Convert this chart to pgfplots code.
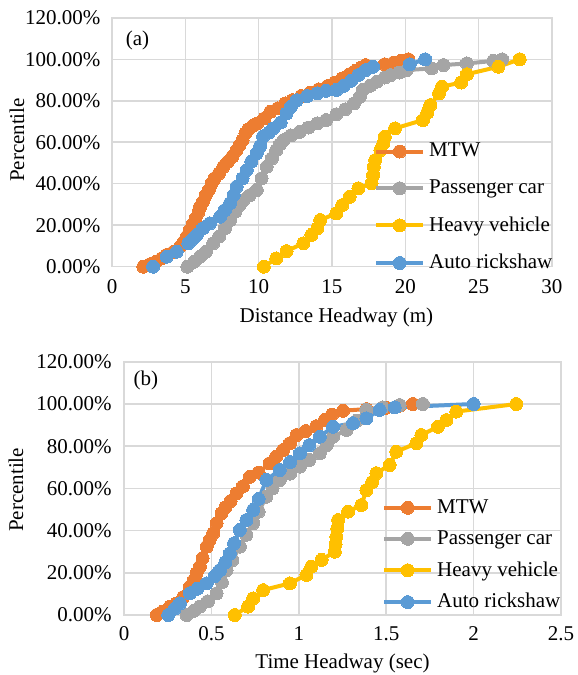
\documentclass[border=0pt]{standalone}
\usepackage{fontspec}
\setmainfont{Liberation Serif}
\usepackage{pgfplots}
\pgfplotsset{compat=1.18}
\definecolor{cMTW}{HTML}{ED7D31}
\definecolor{cPC}{HTML}{A5A5A5}
\definecolor{cHV}{HTML}{FFC000}
\definecolor{cAR}{HTML}{5B9BD5}
\definecolor{gridc}{HTML}{D9D9D9}
\newcommand{\fs}{\rmfamily\fontsize{10.5}{12.6}\selectfont}
\pgfplotsset{
 hw/.style={
  scale only axis, clip=false,
  ymin=0, ymax=120, ytick={0,20,...,120},
  yticklabels={0.00\%,20.00\%,40.00\%,60.00\%,80.00\%,100.00\%,120.00\%},
  grid=major, major grid style={draw=gridc, line width=0.75pt},
  axis line style={draw=gridc, line width=0.75pt},
  major tick length=0pt,
  tick style={draw=none},
  ticklabel style={font=\fs},
  label style={font=\fs},
  legend cell align=left,
  legend image code/.code={\draw[mark repeat=2,mark phase=2,#1] plot coordinates {(0pt,0pt) (11.75pt,0pt) (23.5pt,0pt)};},
 },
 ser/.style={line width=2pt, color=#1, mark=*, mark size=3.25pt, mark options={solid, fill=#1, draw=#1, line width=0pt}},
}
\begin{document}
\begin{tikzpicture}
\useasboundingbox (0,0) rectangle (289pt,337.5pt);
% ---------------- panel (a)
\begin{axis}[hw,
  at={(56pt,204.15pt)}, anchor=south west,
  width=220pt, height=124.45pt,
  xmin=0, xmax=30, xtick={0,5,...,30},
  xticklabels={0,5,10,15,20,25,30},
  xticklabel style={anchor=center, yshift=-10pt},
  yticklabel style={anchor=east, inner sep=0pt, xshift=-5.6pt},
  xlabel={Distance Headway (m)}, ylabel={Percentile},
  xlabel style={at={(axis description cs:0.51,-0.206)}, anchor=center},
  ylabel style={at={(axis description cs:-0.216,0.509)}, anchor=center},
  legend style={at={(axis description cs:0.595,0.514)}, anchor=north west, draw=none, fill=none, font=\fs, row sep=6pt, inner sep=0pt},
]
\addplot[ser=cMTW] coordinates {
(2.14,0) (2.6,1.2) (3.0,2.4) (3.4,4.0) (3.7,5.6) (4.2,7.2) (4.64,9.6) (4.9,12.0) (5.1,14.5) (5.3,17.7) (5.5,20.5) (5.7,23.3) (5.9,26.5) (6.0,28.9) (6.2,31.3) (6.4,34.5) (6.6,37.0) (6.8,40.2) (7.0,42.6) (7.3,45.0) (7.6,48.2) (7.9,50.6) (8.2,53.0) (8.5,56.2) (8.7,58.6) (8.9,61.0) (9.1,64.3) (9.3,66.3) (9.6,67.9) (9.9,69.1) (10.4,71.5) (10.8,74.7) (11.3,76.3) (11.8,78.7) (12.3,80.3) (12.9,82.3) (13.5,83.9) (14.1,85.5) (14.7,87.1) (15.2,88.8) (15.7,90.8) (16.2,92.8) (16.6,94.4) (17.0,96.0) (17.3,97.2) (18.6,97.6) (19.2,98.4) (19.7,99.2) (20.2,100)
};
\addlegendentry{MTW}
\addplot[ser=cPC] coordinates {
(5.14,0) (5.6,2.4) (6.0,4.8) (6.4,7.2) (6.9,11.3) (7.3,14.5) (7.7,18.5) (8.05,22.5) (8.4,26.5) (8.7,29.7) (8.96,32.1) (9.4,34.5) (9.87,37.0) (10.2,42.6) (10.55,48.2) (10.9,52.2) (11.2,56.2) (11.45,59.0) (11.7,61.0) (12.2,63.3) (12.8,65.0) (13.4,67.1) (14.0,69.1) (14.6,70.7) (15.3,73.5) (15.9,75.9) (16.5,78.7) (16.9,81.9) (17.1,85.2) (17.6,87.2) (18.06,89.2) (18.6,91.2) (19.0,92.4) (19.6,93.6) (20.1,94.8) (21.8,95.6) (22.6,97.2) (24.2,98.0) (26.0,99.2) (26.6,100)
};
\addlegendentry{Passenger car}
\addplot[ser=cHV] coordinates {
(10.35,0) (11.2,4.0) (11.9,7.5) (13.05,11.3) (13.6,15.3) (14.0,18.5) (14.2,22.5) (15.3,25.7) (15.7,29.7) (16.2,33.7) (16.8,37.8) (17.7,40.2) (17.8,44.2) (17.85,48.2) (17.95,51.4) (18.3,56.2) (18.5,59.4) (18.6,62.7) (19.3,66.7) (21.2,70.7) (21.5,74.3) (21.7,77.9) (22.3,83.6) (22.5,86.8) (23.8,88.8) (24.2,92.8) (26.35,96.4) (27.8,100)
};
\addlegendentry{Heavy vehicle}
\addplot[ser=cAR] coordinates {
(2.8,0) (3.73,4.8) (4.41,7.2) (5.2,11.3) (5.5,13.3) (5.78,15.3) (6.2,18.5) (6.68,20.9) (7.37,24.1) (7.7,27.3) (8.05,30.6) (8.3,34.5) (8.5,38.6) (8.9,42.6) (9.19,46.6) (9.5,50.6) (9.87,54.7) (10.1,58.2) (10.3,62.7) (10.7,64.7) (11.0,66.7) (11.5,69.5) (11.9,73.9) (12.2,77.1) (12.6,80.3) (13.3,82.3) (14.0,83.6) (14.6,84.8) (15.3,85.2) (15.8,87.2) (16.3,89.6) (16.8,92.4) (17.3,94.8) (17.8,96.4) (20.3,97.6) (21.35,100)
};
\addlegendentry{Auto rickshaw}
\node[font=\fs] at (axis description cs:0.058,0.911) {(a)};
\end{axis}
% ---------------- panel (b)
\begin{axis}[hw,
  at={(62pt,30pt)}, anchor=south west,
  width=218.5pt, height=126.6pt,
  xmin=0, xmax=2.5, xtick={0,0.5,...,2.5},
  xticklabels={0,0.5,1,1.5,2,2.5},
  xticklabel style={anchor=center, yshift=-9.5pt},
  yticklabel style={anchor=east, inner sep=0pt, xshift=-6pt},
  xlabel={Time Headway (sec)}, ylabel={Percentile},
  xlabel style={at={(axis description cs:0.50,-0.19)}, anchor=center},
  ylabel style={at={(axis description cs:-0.247,0.494)}, anchor=center},
  legend style={at={(axis description cs:0.59,0.474)}, anchor=north west, draw=none, fill=none, font=\fs, row sep=3.15pt, inner sep=0pt},
]
\addplot[ser=cMTW] coordinates {
(0.187,0) (0.22,1.5) (0.263,4.0) (0.30,5.5) (0.339,8.5) (0.377,13.4) (0.40,16.5) (0.415,19.7) (0.434,22.9) (0.45,27) (0.473,32.4) (0.49,35.5) (0.51,38.7) (0.53,43.5) (0.558,48.2) (0.58,51) (0.61,54) (0.644,57.7) (0.68,61) (0.72,65.5) (0.77,67.5) (0.834,71.9) (0.87,75) (0.91,78.2) (0.949,81.4) (0.987,85.3) (1.04,87.2) (1.10,89.5) (1.15,92.5) (1.19,95.0) (1.253,96.8) (1.387,97.6) (1.50,98.2) (1.577,99.2) (1.653,100)
};
\addlegendentry{MTW}
\addplot[ser=cPC] coordinates {
(0.358,0) (0.40,2.0) (0.434,4.0) (0.48,6.5) (0.53,10.3) (0.56,15.5) (0.587,21.3) (0.62,26) (0.663,32.4) (0.70,38) (0.739,43.5) (0.77,49) (0.815,56.1) (0.85,60) (0.891,64.0) (0.95,67) (1.006,70.3) (1.06,73.5) (1.12,76.6) (1.16,80.5) (1.196,84.5) (1.273,87.7) (1.33,92) (1.387,97.2) (1.48,98.4) (1.577,99.5) (1.71,100)
};
\addlegendentry{Passenger car}
\addplot[ser=cHV] coordinates {
(0.634,0) (0.71,4.0) (0.739,7.9) (0.796,11.8) (0.949,15.0) (1.044,19.0) (1.072,22.9) (1.13,26.1) (1.206,30.0) (1.21,33.5) (1.215,37.1) (1.22,41) (1.225,45.0) (1.282,49.0) (1.358,52.1) (1.387,59.2) (1.42,63) (1.444,67.2) (1.52,71.1) (1.558,77.4) (1.673,81.4) (1.701,85.3) (1.796,89.2) (1.844,92.4) (1.901,96.4) (2.244,100)
};
\addlegendentry{Heavy vehicle}
\addplot[ser=cAR] coordinates {
(0.253,0) (0.29,3) (0.32,5.5) (0.377,10.3) (0.42,12.5) (0.473,15.0) (0.52,18.5) (0.549,21.3) (0.58,25) (0.606,29.2) (0.63,34) (0.663,40.3) (0.70,45) (0.739,49.8) (0.77,55) (0.815,64.0) (0.891,68.7) (0.95,72.5) (1.006,76.6) (1.06,80.5) (1.12,84.5) (1.196,89.2) (1.31,90.9) (1.387,93.2) (1.463,97.2) (1.549,98.4) (2.0,100)
};
\addlegendentry{Auto rickshaw}
\node[font=\fs] at (axis description cs:0.05,0.925) {(b)};
\end{axis}
\end{tikzpicture}
\end{document}
